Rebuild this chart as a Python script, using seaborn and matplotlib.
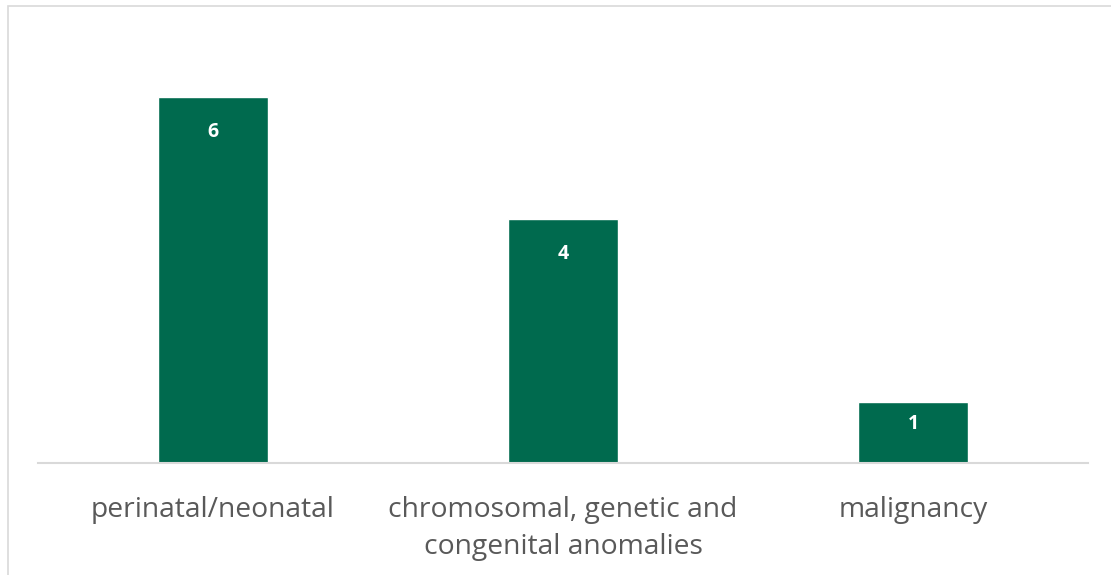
import matplotlib.pyplot as plt
import pandas as pd
import seaborn as sns
from matplotlib.patches import Rectangle

CATEGORIES = ["perinatal/neonatal", "chromosomal, genetic and\ncongenital anomalies", "malignancy"]
COUNTS = [6, 4, 1]

BAR_COLOR = "#006A4E"
TEXT_COLOR = "#595959"

sns.set_theme(style="white")
plt.rcParams["font.family"] = ["Open Sans", "DejaVu Sans"]

df = pd.DataFrame({"category": CATEGORIES, "count": COUNTS})

fig = plt.figure(figsize=(11.11, 5.75), dpi=100)
ax = fig.add_axes([38 / 1111, 112 / 575, 1050 / 1111, 427 / 575])

sns.barplot(data=df, x="category", y="count", color=BAR_COLOR, saturation=1,
            width=0.314, ax=ax)

ax.set_ylim(0, 7)
ax.set_xlim(-0.5, len(CATEGORIES) - 0.5)
ax.set_yticks([])
ax.set_xlabel("")
ax.set_ylabel("")
for side in ["left", "right", "top"]:
    ax.spines[side].set_visible(False)
ax.spines["bottom"].set_color("#D9D9D9")
ax.spines["bottom"].set_linewidth(1.5)
ax.tick_params(axis="x", length=0, pad=24, labelsize=20.3, labelcolor=TEXT_COLOR)
for lbl in ax.get_xticklabels():
    lbl.set_linespacing(1.4)

# labels just inside the top of each bar (short bars get a smaller inset)
for bar, value in zip(ax.patches, COUNTS):
    inset = 25 if value > 1 else 16
    ax.annotate(str(value), (bar.get_x() + bar.get_width() / 2, bar.get_height()),
                xytext=(0, -inset), textcoords="offset points",
                ha="center", va="center", color="white", fontsize=14,
                fontweight="bold")

# chart-area border
fig.patches.append(Rectangle((8 / 1111, -0.1), 1.2, 0.1 + 569 / 575,
                             transform=fig.transFigure, fill=False,
                             edgecolor="#D9D9D9", linewidth=1.2))

fig.savefig("out.png", dpi=100)
